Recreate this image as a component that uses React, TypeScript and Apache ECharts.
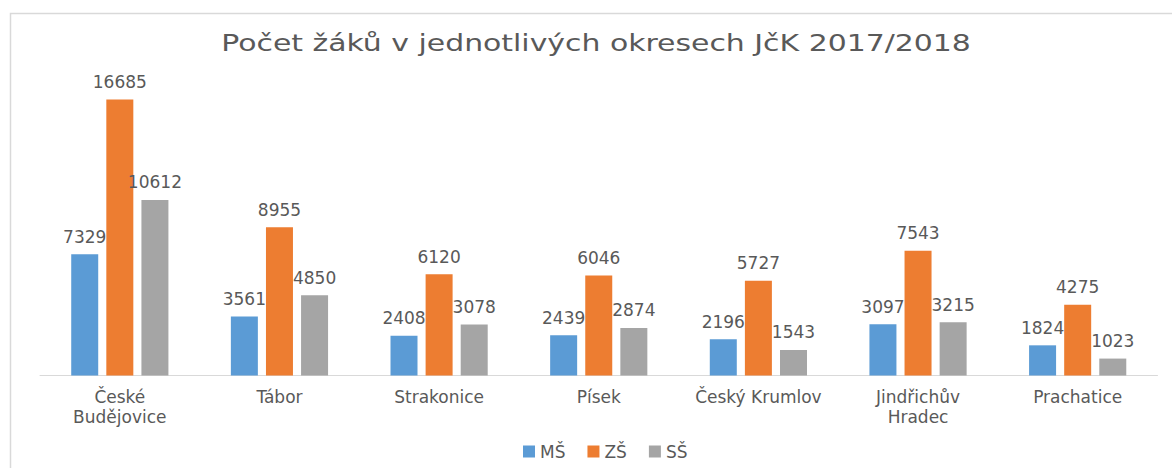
import React, { useEffect, useRef } from "react";
import * as echarts from "echarts";

const categories = [
  "České\nBudějovice",
  "Tábor",
  "Strakonice",
  "Písek",
  "Český Krumlov",
  "Jindřichův\nHradec",
  "Prachatice",
];
const seriesNames = ["MŠ", "ZŠ", "SŠ"];
const msValues = [7329, 3561, 2408, 2439, 2196, 3097, 1824];
const zsValues = [16685, 8955, 6120, 6046, 5727, 7543, 4275];
const ssValues = [10612, 4850, 3078, 2874, 1543, 3215, 1023];
const colors = ["#5B9BD5", "#ED7D31", "#A5A5A5"];
const titleText = "Počet žáků v jednotlivých okresech JčK 2017/2018";

export default function App() {
  const ref = useRef<HTMLDivElement>(null);
  useEffect(() => {
    if (!ref.current) return;
    const chart = echarts.init(ref.current, null, { renderer: "svg" });
    const font = "DejaVu Sans";
    const textColor = "#595959";
    const data = [msValues, zsValues, ssValues];
    chart.setOption({
      animation: false,
      backgroundColor: "#ffffff",
      legend: {
        data: seriesNames,
        bottom: 3,
        left: 518,
        itemWidth: 12,
        itemHeight: 12,
        itemGap: 22,
        icon: "rect",
        textStyle: { fontFamily: font, fontSize: 17, color: textColor },
      },
      grid: { left: 40, right: 14.5, top: 77.7, bottom: 92.5, containLabel: false },
      xAxis: {
        type: "category",
        data: categories,
        axisLine: { lineStyle: { color: "#d9d9d9", width: 1 } },
        axisTick: { show: false },
        axisLabel: {
          fontFamily: font,
          fontSize: 17,
          color: textColor,
          lineHeight: 20,
          margin: 11,
          interval: 0,
        },
      },
      yAxis: {
        type: "value",
        min: 0,
        max: 18000,
        show: false,
        splitLine: { show: false },
      },
      graphic: [
        {
          type: "polyline",
          shape: { points: [[10.5, 480], [10.5, 13.5], [1180, 13.5]] },
          style: { stroke: "#d9d9d9", lineWidth: 1.5, fill: "none" },
          silent: true,
        },
        {
          type: "text",
          x: 596,
          y: 43,
          scaleX: 1.3,
          scaleY: 1,
          silent: true,
          style: {
            text: titleText,
            x: 0,
            y: 0,
            align: "center",
            verticalAlign: "middle",
            fontFamily: font,
            fontSize: 23,
            fill: textColor,
          },
        },
      ],
      series: seriesNames.map((name, i) => ({
        name,
        type: "bar",
        data: data[i],
        barWidth: 27,
        barGap: "30%",
        itemStyle: { color: colors[i] },
        label: {
          show: true,
          position: "top",
          distance: 9,
          fontFamily: font,
          fontSize: 17,
          color: textColor,
        },
      })),
    });
    return () => chart.dispose();
  }, []);
  return (
    <div
      ref={ref}
      style={{ position: "fixed", left: 0, top: 0, width: 1172, height: 468 }}
    />
  );
}
